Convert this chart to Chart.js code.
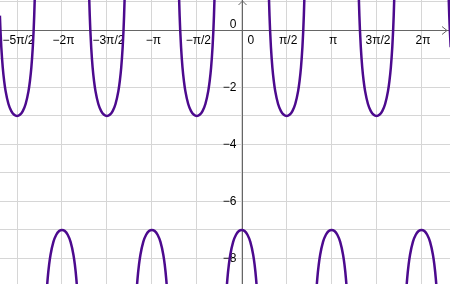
<!DOCTYPE html>
<html>
<head>
<meta charset="utf-8">
<script src="https://cdn.jsdelivr.net/npm/chart.js@4"></script>
<style>
  html, body { margin: 0; padding: 0; background: #fff; }
  #wrap { width: 450px; height: 284px; }
</style>
</head>
<body>
<div id="wrap"><canvas id="plot" width="450" height="284"></canvas></div>
<script>
const PI = Math.PI;

// branch centres (x)
const upCenters = [-5 * PI / 2, -3 * PI / 2, -PI / 2, PI / 2, 3 * PI / 2, 5 * PI / 2];
const downCenters = [-2 * PI, -PI, 0, PI, 2 * PI];

// one branch shape, x offset from its centre and y
const branchOffsets = [-0.64, -0.62, -0.6, -0.58, -0.55, -0.5, -0.45, -0.4, -0.3, -0.2, -0.1, 0,
  0.1, 0.2, 0.3, 0.4, 0.45, 0.5, 0.55, 0.58, 0.6, 0.62, 0.64];
const upValues = [1.98, 1.16, 0.52, 0.01, -0.59, -1.30, -1.78, -2.13, -2.58, -2.83, -2.96, -3,
  -2.96, -2.83, -2.58, -2.13, -1.78, -1.30, -0.59, 0.01, 0.52, 1.16, 1.98];
const downValues = [-11.98, -11.16, -10.52, -10.01, -9.41, -8.70, -8.22, -7.87, -7.42, -7.17, -7.04, -7,
  -7.04, -7.17, -7.42, -7.87, -8.22, -8.70, -9.41, -10.01, -10.52, -11.16, -11.98];

// ticks
const xTickValues = [-5 * PI / 2, -2 * PI, -3 * PI / 2, -PI, -PI / 2, 0, PI / 2, PI, 3 * PI / 2, 2 * PI];
const xTickLabels = ['\u22125\u03c0/2', '\u22122\u03c0', '\u22123\u03c0/2', '\u2212\u03c0', '\u2212\u03c0/2', '0',
  '\u03c0/2', '\u03c0', '3\u03c0/2', '2\u03c0'];
const yGridValues = [1, 0, -1, -2, -3, -4, -5, -6, -7, -8];
const yTickValues = [0, -2, -4, -6, -8];
const yTickLabels = ['0', '\u22122', '\u22124', '\u22126', '\u22128'];

const curveColor = '#4c0a8e';

function branch(center, values) {
  return {
    data: branchOffsets.map((d, i) => ({ x: center + d, y: values[i] })),
    borderColor: curveColor,
    borderWidth: 2.5,
    pointRadius: 0,
    showLine: true,
    cubicInterpolationMode: 'monotone',
    fill: false
  };
}

const datasets = [];
upCenters.forEach(c => datasets.push(branch(c, upValues)));
downCenters.forEach(c => datasets.push(branch(c, downValues)));

// axes, arrows and labels in geogebra style
const axesPlugin = {
  id: 'axes',
  beforeDatasetsDraw(chart) {
    const ctx = chart.ctx;
    const xs = chart.scales.x, ys = chart.scales.y;
    const area = chart.chartArea;
    const ox = Math.round(xs.getPixelForValue(0)) + 0.5;
    const oy = Math.round(ys.getPixelForValue(0)) + 0.5;
    ctx.save();
    ctx.strokeStyle = '#666';
    ctx.lineWidth = 1;
    ctx.beginPath();
    ctx.moveTo(area.left, oy); ctx.lineTo(area.right - 1, oy);
    ctx.moveTo(ox, area.top); ctx.lineTo(ox, area.bottom);
    // arrows
    ctx.moveTo(area.right - 8, oy - 4); ctx.lineTo(area.right - 3, oy); ctx.lineTo(area.right - 8, oy + 4);
    ctx.moveTo(ox - 4, area.top + 5); ctx.lineTo(ox, area.top + 1); ctx.lineTo(ox + 4, area.top + 5);
    ctx.stroke();

    ctx.fillStyle = '#000';
    ctx.font = '12px "Liberation Sans", Arial, sans-serif';
    ctx.textBaseline = 'middle';
    ctx.textAlign = 'center';
    xTickValues.forEach((v, i) => {
      let px = xs.getPixelForValue(v) + 1.5;
      if (v === 0) { ctx.textAlign = 'left'; px = ox + 5; }
      ctx.fillText(xTickLabels[i], px, oy + 10);
      ctx.textAlign = 'center';
    });
    ctx.textAlign = 'right';
    yTickValues.forEach((v, i) => {
      let py = ys.getPixelForValue(v);
      if (v === 0) py = oy - 6;
      ctx.fillText(yTickLabels[i], ox - 6, py);
    });
    ctx.restore();
  }
};

new Chart(document.getElementById('plot'), {
  type: 'scatter',
  data: { datasets },
  options: {
    responsive: false,
    animation: false,
    events: [],
    layout: { padding: 0 },
    plugins: { legend: { display: false }, tooltip: { enabled: false } },
    scales: {
      x: {
        type: 'linear',
        min: -8.45,
        max: 7.28,
        afterBuildTicks: s => { s.ticks = xTickValues.map(v => ({ value: v })); },
        grid: { color: '#d6d6d6', drawTicks: false, lineWidth: 1 },
        border: { display: false },
        ticks: { display: false }
      },
      y: {
        type: 'linear',
        min: -8.9,
        max: 1.07,
        afterBuildTicks: s => { s.ticks = yGridValues.map(v => ({ value: v })); },
        grid: { color: '#d6d6d6', drawTicks: false, lineWidth: 1 },
        border: { display: false },
        ticks: { display: false }
      }
    }
  },
  plugins: [axesPlugin]
});
</script>
</body>
</html>
